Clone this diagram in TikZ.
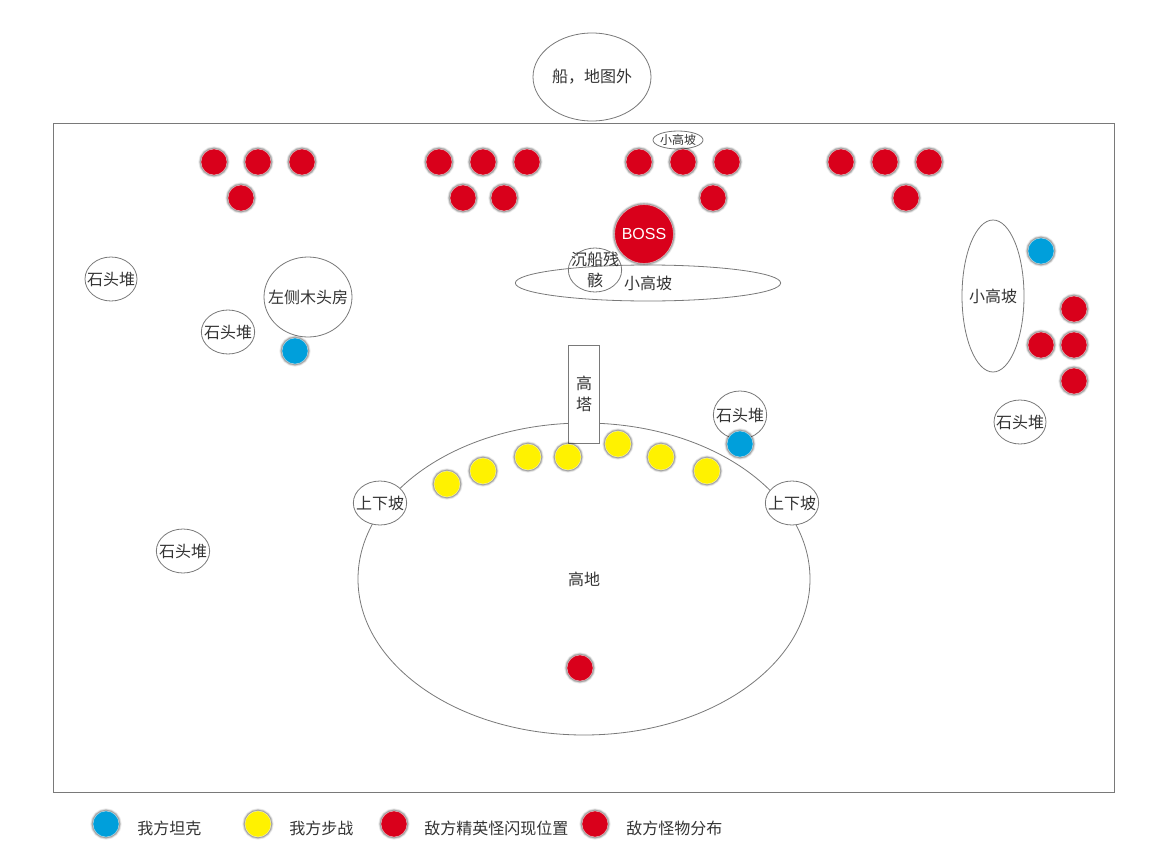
\documentclass[tikz,border=0pt]{standalone}
\usepackage{fontspec}
\setmainfont{Noto Sans CJK SC}
\newfontfamily\latinfont{Liberation Sans}
\usetikzlibrary{shapes.geometric}
\definecolor{mobred}{HTML}{D9001B}
\definecolor{tankblue}{HTML}{009FDB}
\definecolor{edgegray}{HTML}{797979}
\definecolor{inkgray}{HTML}{333333}
\tikzset{
	glow/.style={preaction={draw=black,draw opacity=0.07,line width=4pt},preaction={draw=black,draw opacity=0.12,line width=2.9pt},preaction={draw=black,draw opacity=0.22,line width=1.8pt}},
	unit/.style={circle,inner sep=0pt,minimum size=19.5pt,draw=white,draw opacity=0.55,line width=0.4pt,glow},
	mob/.style={unit,fill=mobred},
	tank/.style={unit,fill=tankblue},
	foot/.style={unit,fill=yellow},
	place/.style={ellipse,draw=edgegray,line width=0.6pt,fill=white,inner sep=-8pt,text=inkgray,align=center,font=\fontsize{12}{15.75}\selectfont},
	legendtext/.style={anchor=west,inner sep=0pt,text=inkgray,font=\fontsize{12}{14}\selectfont},
}
\begin{document}
\begin{tikzpicture}[x=0.75pt,y=-0.75pt]
	\useasboundingbox (0,0) rectangle (1173,867);
	% map border
	\node[draw=edgegray,line width=0.6pt,minimum width=795.5pt,minimum height=501.75pt,inner sep=0pt] (mapframe) at (583.75,457.5) {};
	\node[place,minimum width=88.5pt,minimum height=66pt] (ship) at (592,77) {船，地图外};
	% high ground
	\node[place,minimum width=339pt,minimum height=234pt] (highland) at (584,579) {高地};
	\node[draw=edgegray,line width=0.6pt,fill=white,inner sep=0pt,minimum width=23.25pt,minimum height=73.5pt,align=center,text=inkgray,font=\fontsize{12}{15.75}\selectfont] (tower) at (584,394) {高\\塔};
	\node[place,minimum width=40pt,minimum height=33pt] (slopeL) at (380,503) {上下坡};
	\node[place,minimum width=40pt,minimum height=33pt] (slopeR) at (792,503) {上下坡};
	% hills and rocks
	\node[place,minimum width=199pt,minimum height=27pt] (hillC) at (648,283) {小高坡};
	\node[place,minimum width=40pt,minimum height=33pt,fill=none] (wreck) at (595,270) {沉船残\\骸};
	\node[place,minimum width=37.5pt,minimum height=13.5pt,font=\fontsize{9}{10}\selectfont] (hillT) at (678,140) {小高坡};
	\node[place,minimum width=46.5pt,minimum height=114pt] (hillR) at (993,296) {小高坡};
	\node[place,minimum width=66pt,minimum height=60pt] (cabin) at (308,297) {左侧木头房};
	\node[place,minimum width=39pt,minimum height=33pt] (rockA) at (111,279) {石头堆};
	\node[place,minimum width=40pt,minimum height=33pt] (rockB) at (228,332) {石头堆};
	\node[place,minimum width=40pt,minimum height=33pt] (rockC) at (183,551) {石头堆};
	\node[place,minimum width=40pt,minimum height=36pt] (rockD) at (740,415) {石头堆};
	\node[place,minimum width=39pt,minimum height=33pt] (rockE) at (1020,422) {石头堆};
	% enemies
	\foreach \px/\py [count=\i] in {214/162,258/162,302/162,241/198,439/162,483/162,527/162,463/198,504/198,639/162,683/162,727/162,713/198,841/162,885/162,929/162,906/198,1074/309,1041/345,1074/345,1074/381,580/668}
		\node[mob] (mob\i) at (\px,\py) {};
	\node[mob,minimum size=44pt,text=white,font=\fontsize{12}{14}\latinfont] (boss) at (644,234) {BOSS};
	% our side
	\foreach \px/\py [count=\i] in {295/351,740/444,1041/251}
		\node[tank] (tank\i) at (\px,\py) {};
	\foreach \px/\py [count=\i] in {447/484,483/471,528/457,568/457,618/444,661/457,707/471}
		\node[foot] (foot\i) at (\px,\py) {};
	% legend
	\node[tank] (keytank) at (106,824) {};
	\node[foot] (keyfoot) at (258,824) {};
	\node[mob] (keyelite) at (394,824) {};
	\node[mob] (keymob) at (595,824) {};
	\node[legendtext] (labeltank) at (137,828) {我方坦克};
	\node[legendtext] (labelfoot) at (289,828) {我方步战};
	\node[legendtext] (labelelite) at (424,828) {敌方精英怪闪现位置};
	\node[legendtext] (labelmob) at (626,828) {敌方怪物分布};
\end{tikzpicture}
\end{document}
